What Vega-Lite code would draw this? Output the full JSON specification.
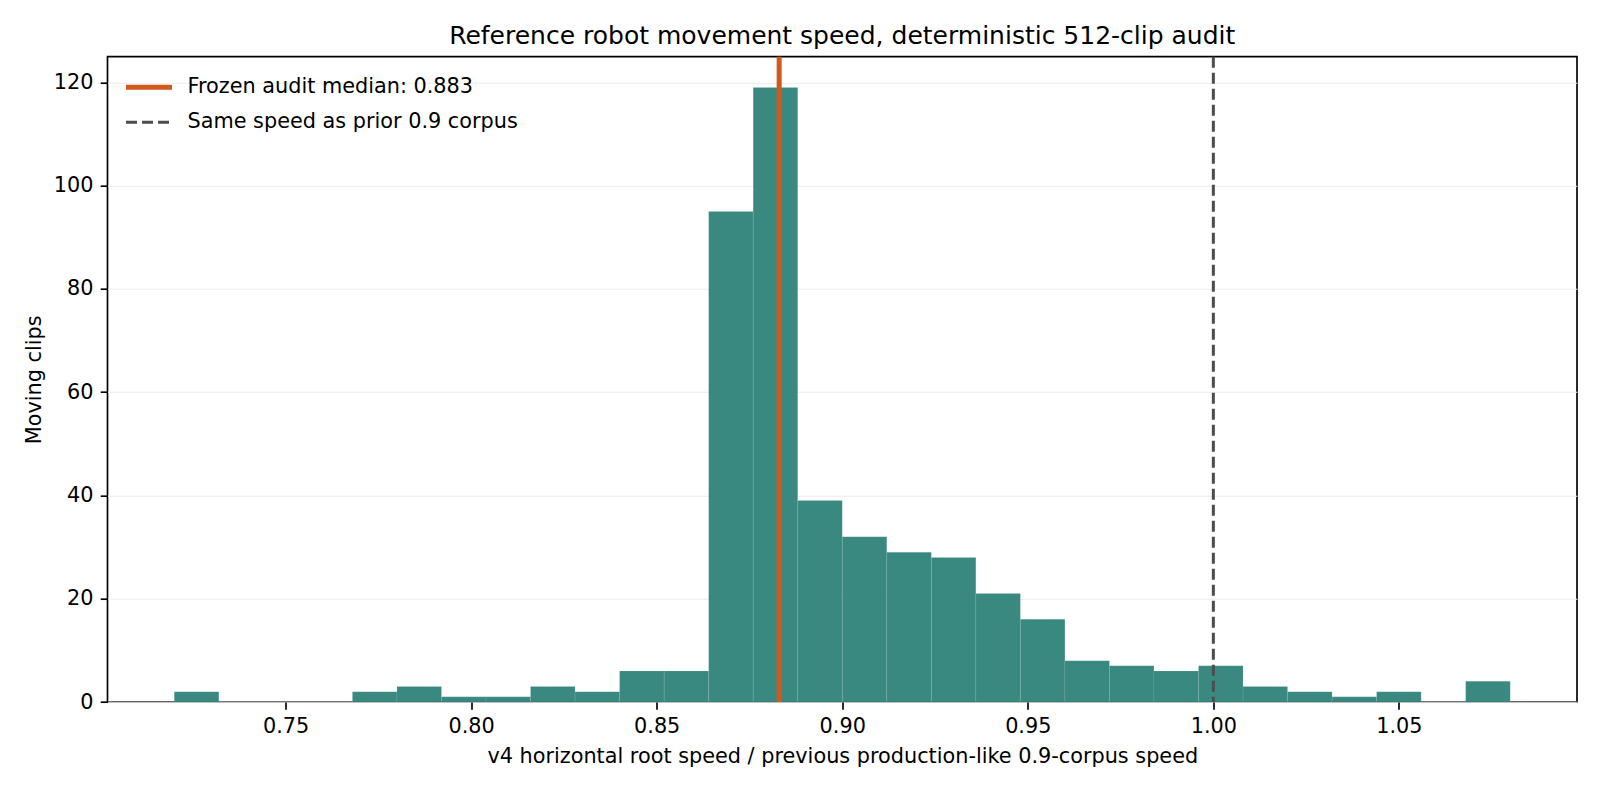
{
  "$schema": "https://vega.github.io/schema/vega-lite/v6.json",
  "width": 1469.5,
  "height": 645.3,
  "autosize": "none",
  "padding": {"left": 107.5, "top": 56.7, "right": 23, "bottom": 90},
  "background": "white",
  "title": {
    "text": "Reference robot movement speed, deterministic 512-clip audit",
    "fontSize": 25,
    "font": "DejaVu Sans",
    "fontWeight": "normal",
    "color": "black",
    "anchor": "middle",
    "baseline": "alphabetic",
    "offset": 13,
    "dy": 28
  },
  "config": {
    "font": "DejaVu Sans",
    "view": {"stroke": "black", "strokeWidth": 1.67},
    "axis": {
      "domain": false,
      "labelFontSize": 20.8,
      "labelColor": "black",
      "tickColor": "black",
      "tickSize": 7.3,
      "tickWidth": 1.67,
      "labelPadding": 7.3,
      "titleFontSize": 20.8,
      "titleFontWeight": "normal",
      "titleColor": "black"
    }
  },
  "datasets": {
    "bins": [
      {"lo": 0.720, "hi": 0.732, "n": 2},
      {"lo": 0.732, "hi": 0.744, "n": 0},
      {"lo": 0.744, "hi": 0.756, "n": 0},
      {"lo": 0.756, "hi": 0.768, "n": 0},
      {"lo": 0.768, "hi": 0.780, "n": 2},
      {"lo": 0.780, "hi": 0.792, "n": 3},
      {"lo": 0.792, "hi": 0.804, "n": 1},
      {"lo": 0.804, "hi": 0.816, "n": 1},
      {"lo": 0.816, "hi": 0.828, "n": 3},
      {"lo": 0.828, "hi": 0.840, "n": 2},
      {"lo": 0.840, "hi": 0.852, "n": 6},
      {"lo": 0.852, "hi": 0.864, "n": 6},
      {"lo": 0.864, "hi": 0.876, "n": 95},
      {"lo": 0.876, "hi": 0.888, "n": 119},
      {"lo": 0.888, "hi": 0.900, "n": 39},
      {"lo": 0.900, "hi": 0.912, "n": 32},
      {"lo": 0.912, "hi": 0.924, "n": 29},
      {"lo": 0.924, "hi": 0.936, "n": 28},
      {"lo": 0.936, "hi": 0.948, "n": 21},
      {"lo": 0.948, "hi": 0.960, "n": 16},
      {"lo": 0.960, "hi": 0.972, "n": 8},
      {"lo": 0.972, "hi": 0.984, "n": 7},
      {"lo": 0.984, "hi": 0.996, "n": 6},
      {"lo": 0.996, "hi": 1.008, "n": 7},
      {"lo": 1.008, "hi": 1.020, "n": 3},
      {"lo": 1.020, "hi": 1.032, "n": 2},
      {"lo": 1.032, "hi": 1.044, "n": 1},
      {"lo": 1.044, "hi": 1.056, "n": 2},
      {"lo": 1.056, "hi": 1.068, "n": 0},
      {"lo": 1.068, "hi": 1.080, "n": 4}
    ],
    "refs": [
      {"x": 0.883, "label": "Frozen audit median: 0.883"},
      {"x": 1.0, "label": "Same speed as prior 0.9 corpus"}
    ]
  },
  "layer": [
    {
      "data": {"name": "bins"},
      "mark": {
        "type": "bar",
        "fill": "#257c72",
        "fillOpacity": 0.9,
        "stroke": "white",
        "strokeWidth": 0.6,
        "strokeOpacity": 0.15
      },
      "encoding": {
        "x": {
          "field": "lo",
          "type": "quantitative",
          "scale": {"domain": [0.702, 1.098], "nice": false, "zero": false},
          "axis": {
            "values": [0.75, 0.8, 0.85, 0.9, 0.95, 1.0, 1.05],
            "format": ".2f",
            "grid": false,
            "titlePadding": 10
          },
          "title": "v4 horizontal root speed / previous production-like 0.9-corpus speed"
        },
        "x2": {"field": "hi"},
        "y": {
          "field": "n",
          "type": "quantitative",
          "scale": {"domain": [0, 124.95], "nice": false},
          "axis": {
            "values": [0, 20, 40, 60, 80, 100, 120],
            "grid": true,
            "gridColor": "#ebebeb",
            "gridWidth": 1.1,
            "titlePadding": 9
          },
          "title": "Moving clips"
        },
        "y2": {"datum": 0}
      }
    },
    {
      "data": {"name": "refs"},
      "mark": {"type": "rule"},
      "encoding": {
        "x": {"field": "x", "type": "quantitative"},
        "color": {
          "field": "label",
          "type": "nominal",
          "scale": {
            "domain": ["Frozen audit median: 0.883", "Same speed as prior 0.9 corpus"],
            "range": ["#d2591c", "#4d4d4d"]
          },
          "legend": {
            "orient": "none",
            "legendX": 16,
            "legendY": 5,
            "title": null,
            "symbolType": "stroke",
            "symbolSize": 2116,
            "rowPadding": -10,
            "labelFontSize": 20.8,
            "labelColor": "black",
            "labelOffset": 13,
            "labelLimit": 800,
            "padding": 0
          }
        },
        "strokeDash": {
          "field": "label",
          "type": "nominal",
          "scale": {
            "domain": ["Frozen audit median: 0.883", "Same speed as prior 0.9 corpus"],
            "range": [[1, 0], [11, 5]]
          }
        },
        "strokeWidth": {
          "field": "label",
          "type": "nominal",
          "scale": {
            "domain": ["Frozen audit median: 0.883", "Same speed as prior 0.9 corpus"],
            "range": [5, 3]
          }
        }
      }
    }
  ]
}
